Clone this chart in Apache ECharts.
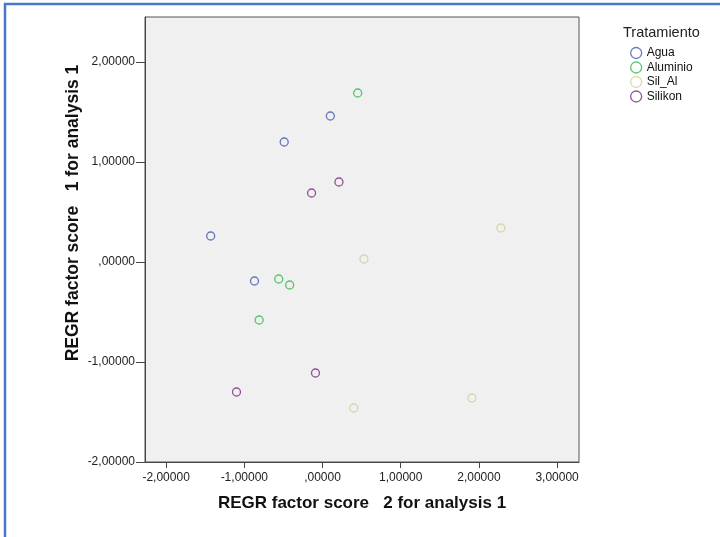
<!DOCTYPE html>
<html lang="es">
<head>
<meta charset="utf-8">
<title>REGR factor scores</title>
<style>
  * { margin: 0; padding: 0; }
  html, body { background: #fff; }
  #chart-container { width: 720px; height: 537px; }
</style>
</head>
<body>
<div id="chart-container"></div>
<script src="https://cdn.jsdelivr.net/npm/echarts@6/dist/echarts.min.js"></script>
<script>
// factor score 2 (x) / factor score 1 (y) per treatment group
var groups = ['Agua', 'Aluminio', 'Sil_Al', 'Silikon'];
var colors = ['#3E58AC', '#2EB848', '#D3CE97', '#7C287D'];

var agua     = [[0.10, 1.46], [-0.49, 1.20], [-1.43, 0.26], [-0.87, -0.19]];
var aluminio = [[0.45, 1.69], [-0.56, -0.17], [-0.42, -0.23], [-0.81, -0.58]];
var silAl    = [[2.28, 0.34], [0.53, 0.03], [1.91, -1.36], [0.40, -1.46]];
var silikon  = [[0.21, 0.80], [-0.14, 0.69], [-0.09, -1.11], [-1.10, -1.30]];

var xTicks = [-2, -1, 0, 1, 2, 3];
var yTicks = [-2, -1, 0, 1, 2];

var groupData = [agua, aluminio, silAl, silikon];

function spssNum(v) {
  var s = Math.abs(v).toFixed(5).replace('.', ',');
  if (Math.abs(v) < 1) s = s.replace(/^0/, '');
  return (v < 0 ? '-' : '') + s;
}

var dom = document.getElementById('chart-container');
var myChart = echarts.init(dom, null, { renderer: 'canvas' });

var font = 'Liberation Sans, Arial, sans-serif';

var option = {
  animation: false,
  backgroundColor: '#fff',
  graphic: [
    {
      type: 'rect',
      shape: { x: 5, y: 4, width: 760, height: 600 },
      style: { fill: 'none', stroke: '#4a78c8', lineWidth: 2.5 }
    },
    {
      type: 'text',
      x: 73, y: 213,
      rotation: Math.PI / 2,
      style: {
        text: 'REGR factor score   1 for analysis 1',
        font: 'bold 17.5px ' + font,
        fill: '#111',
        align: 'center',
        verticalAlign: 'middle'
      }
    }
  ],
  title: {
    text: 'Tratamiento',
    left: 623, top: 25, padding: 0,
    textStyle: { fontFamily: font, fontSize: 14.5, fontWeight: 'normal', color: '#222' }
  },
  legend: {
    orient: 'vertical',
    left: 630, top: 46, padding: 0,
    itemWidth: 11, itemHeight: 11, itemGap: 0.5,
    textStyle: { fontFamily: font, fontSize: 12, lineHeight: 14, color: '#111' },
    data: groups.map(function (g, i) {
      return {
        name: g, icon: 'circle',
        itemStyle: { color: 'transparent', borderColor: colors[i], borderWidth: 1.3 }
      };
    })
  },
  grid: {
    left: 145, top: 17, width: 434, height: 445,
    show: true, backgroundColor: '#f0f0f0', borderColor: '#555', borderWidth: 1
  },
  xAxis: {
    type: 'value',
    min: -2.27, max: 3.28,
    name: 'REGR factor score   2 for analysis 1',
    nameLocation: 'middle', nameGap: 33,
    nameTextStyle: { fontFamily: font, fontSize: 17, fontWeight: 'bold', color: '#111' },
    splitLine: { show: false },
    axisLine: { onZero: false, lineStyle: { color: '#444' } },
    axisTick: { show: true, length: 6, customValues: xTicks, lineStyle: { color: '#444' } },
    axisLabel: {
      customValues: xTicks, margin: 10,
      fontFamily: font, fontSize: 12, color: '#222',
      formatter: spssNum
    }
  },
  yAxis: {
    type: 'value',
    min: -2, max: 2.45,
    splitLine: { show: false },
    axisLine: { show: true, onZero: false, lineStyle: { color: '#444' } },
    axisTick: { show: true, length: 9, customValues: yTicks, lineStyle: { color: '#444' } },
    axisLabel: {
      customValues: yTicks, margin: 10,
      fontFamily: font, fontSize: 12, color: '#222',
      formatter: spssNum
    }
  },
  series: groups.map(function (g, i) {
    return {
      name: g,
      type: 'scatter',
      symbol: 'circle',
      symbolSize: 8,
      itemStyle: { color: 'transparent', borderColor: colors[i], borderWidth: 1.3 },
      data: groupData[i]
    };
  })
};

myChart.setOption(option);
window.addEventListener('resize', myChart.resize);
</script>
</body>
</html>
